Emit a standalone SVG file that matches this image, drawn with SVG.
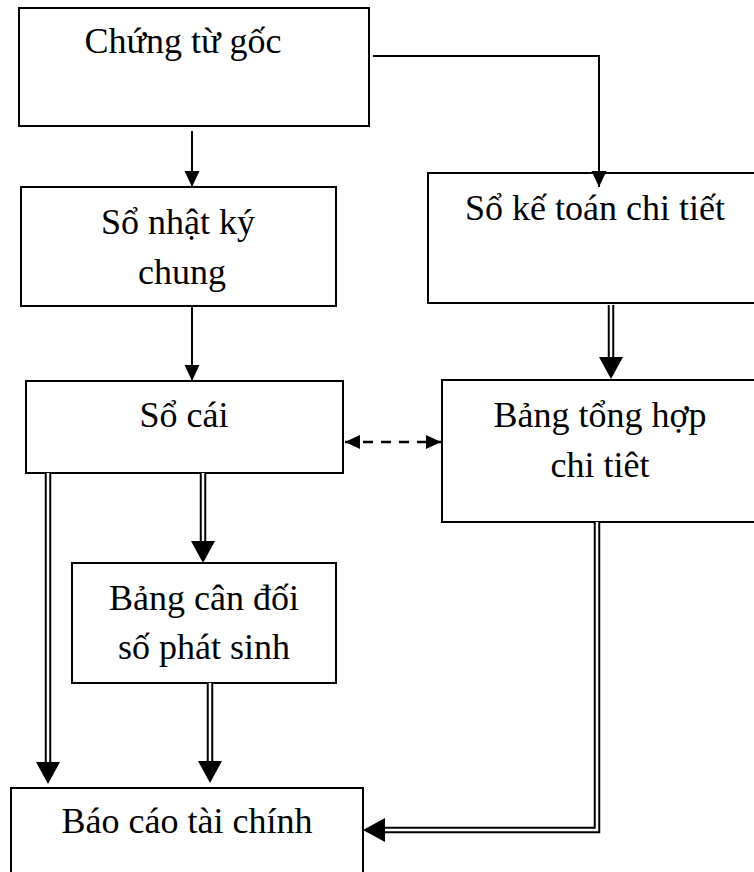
<svg xmlns="http://www.w3.org/2000/svg" width="754" height="872" viewBox="0 0 754 872">
<style>
.box{fill:#fff;stroke:#000;stroke-width:2}
.t{font-family:"Liberation Serif","Times New Roman",serif;font-size:36px;fill:#000;text-anchor:middle}
.ln{fill:none;stroke:#000;stroke-width:2}
.dbk{fill:none;stroke:#000;stroke-width:6.5}
.dwh{fill:none;stroke:#fff;stroke-width:2.5}
.dash{fill:none;stroke:#000;stroke-width:2.5;stroke-dasharray:10 8}
</style>
<defs>
<marker id="hs" markerUnits="userSpaceOnUse" markerWidth="16" markerHeight="16" viewBox="0 -8 16 16" refX="16" refY="0" orient="auto"><path d="M0,-7.5 L16,0 L0,7.5z" fill="#000"/></marker>
<marker id="hb" markerUnits="userSpaceOnUse" markerWidth="22" markerHeight="24" viewBox="0 -12 22 24" refX="0" refY="0" orient="auto"><path d="M0,-12 L22,0 L0,12z" fill="#000"/></marker>
<marker id="hd" markerUnits="userSpaceOnUse" markerWidth="15" markerHeight="15" viewBox="0 -7.5 15 15" refX="15" refY="0" orient="auto-start-reverse"><path d="M0,-7 L15,0 L0,7z" fill="#000"/></marker>
</defs>
<g id="nodeA"><rect class="box" x="19" y="8" width="350" height="118"/><text class="t" x="183" y="53">Chứng từ gốc</text></g>
<g id="nodeB"><rect class="box" x="21" y="187" width="315" height="119"/><text class="t" x="178" y="234">Sổ nhật ký</text><text class="t" x="182" y="284">chung</text></g>
<g id="nodeC"><rect class="box" x="428" y="173" width="340" height="130"/><text class="t" x="595" y="220">Sổ kế toán chi tiết</text></g>
<g id="nodeD"><rect class="box" x="26" y="381" width="317" height="92"/><text class="t" x="184" y="427">Sổ cái</text></g>
<g id="nodeE"><rect class="box" x="442" y="380" width="326" height="142"/><text class="t" x="600" y="427">Bảng tổng hợp</text><text class="t" x="600" y="477">chi tiêt</text></g>
<g id="nodeF"><rect class="box" x="72" y="563" width="264" height="120"/><text class="t" x="204" y="610">Bảng cân đối</text><text class="t" x="204" y="659">số phát sinh</text></g>
<g id="nodeG"><rect class="box" x="11" y="788" width="352" height="100"/><text class="t" x="187" y="833">Báo cáo tài chính</text></g>
<g id="connectors">
<path class="ln" d="M192,131 L192,187" marker-end="url(#hs)"/>
<path class="ln" d="M373,56 L599,56 L599,187" marker-end="url(#hs)"/>
<path class="ln" d="M192,307 L192,381" marker-end="url(#hs)"/>
<path class="dash" d="M345,442 L441,442" marker-start="url(#hd)" marker-end="url(#hd)"/>
<path class="dbk" d="M611,305 L611,357" marker-end="url(#hb)"/><path class="dwh" d="M611,304 L611,357"/>
<path class="dbk" d="M48,474 L48,762" marker-end="url(#hb)"/><path class="dwh" d="M48,473 L48,762"/>
<path class="dbk" d="M203,474 L203,541" marker-end="url(#hb)"/><path class="dwh" d="M203,473 L203,541"/>
<path class="dbk" d="M210,684 L210,761" marker-end="url(#hb)"/><path class="dwh" d="M210,683 L210,761"/>
<path class="dbk" d="M597,523 L597,830 L385,830" marker-end="url(#hb)"/><path class="dwh" d="M597,522 L597,830 L385,830"/>
</g>
</svg>
